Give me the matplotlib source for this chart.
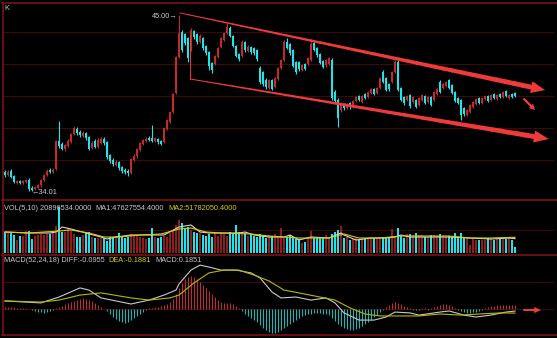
import numpy as np
import matplotlib
matplotlib.use("Agg")
import matplotlib.pyplot as plt
from matplotlib.lines import Line2D

# ---------------- data ----------------
opens = [35.19,35.00,35.25,34.94,34.50,34.63,34.50,34.56,34.69,34.19,
         34.13,34.19,34.38,34.69,35.00,35.31,35.19,35.38,37.13,36.94,
         36.63,36.81,37.06,37.56,37.88,37.69,37.44,37.63,37.38,36.69,
         37.13,36.75,37.00,37.25,37.06,36.25,35.94,35.63,35.81,35.50,
         35.31,35.25,35.13,35.94,36.19,36.56,36.94,37.13,37.31,37.31,
         37.13,37.25,37.13,37.06,37.88,38.31,38.94,40.13,42.38,43.94,
         43.81,43.56,42.81,44.00,43.81,43.31,43.56,43.06,42.69,42.00,
         41.94,42.38,43.00,43.44,43.88,44.19,43.69,43.06,42.56,42.44,
         43.31,42.75,43.00,42.94,42.81,41.69,41.44,40.94,40.44,40.94,
         40.50,41.00,41.69,42.19,43.31,43.19,42.81,42.06,42.06,41.56,
         41.94,41.94,42.19,43.25,42.94,42.56,42.13,41.88,41.94,42.19,
         40.19,39.69,39.06,39.44,39.19,39.50,39.25,39.63,39.94,39.56,
         40.06,39.88,40.13,40.38,40.13,40.44,41.44,41.06,40.69,40.81,
         41.44,42.06,40.44,39.88,39.69,40.00,39.56,39.69,39.38,39.69,
         39.94,39.56,39.88,39.69,40.06,40.81,40.44,40.56,40.94,40.63,
         40.19,39.81,39.69,39.19,38.75,38.94,39.25,39.44,39.81,39.50,
         39.75,39.94,39.69,40.06,39.75,40.06,39.88,40.25,39.81,40.06,
         40.13]
closes = [35.00,35.19,34.88,34.56,34.63,34.50,34.63,34.69,34.13,34.06,
          34.25,34.38,34.69,35.00,35.25,35.19,35.31,37.13,36.81,36.63,
          36.88,37.13,37.56,37.94,37.63,37.50,37.63,37.31,36.63,37.00,
          36.75,37.19,37.25,37.00,36.13,35.88,35.69,35.81,35.44,35.25,
          35.19,35.13,36.00,36.19,36.63,37.00,37.19,37.25,37.19,37.13,
          37.31,37.06,36.94,37.94,38.44,38.94,40.06,42.38,43.88,42.81,
          43.25,42.31,44.06,43.63,43.31,43.69,42.94,42.63,41.81,41.56,
          42.44,42.94,43.56,43.88,44.25,43.69,43.06,42.44,42.25,43.31,
          42.81,43.00,42.69,42.63,42.25,40.81,40.69,40.50,40.94,40.38,
          41.06,41.69,42.19,43.31,42.94,42.63,41.81,41.44,41.63,41.88,
          41.63,42.31,43.19,42.81,42.50,42.00,41.75,42.19,42.31,39.81,
          39.63,38.56,39.50,39.19,39.44,39.25,39.63,39.88,39.69,39.94,
          39.81,40.19,40.38,40.06,40.44,41.06,40.81,40.31,40.38,41.44,
          42.06,40.31,39.69,39.50,39.94,39.31,39.88,39.25,39.81,40.00,
          39.50,39.88,39.38,40.19,40.38,40.19,40.69,40.81,40.44,40.13,
          39.63,39.50,38.75,38.81,39.06,39.38,39.56,39.75,39.50,39.81,
          39.94,39.63,40.00,39.81,40.00,39.88,40.19,39.94,40.00,39.88,
          39.94]
highs = [35.31,35.31,35.38,35.00,34.69,34.69,34.69,34.75,34.81,34.31,
         34.31,34.44,34.75,35.06,35.38,35.44,35.44,37.19,38.38,37.06,
         36.94,37.25,37.63,38.06,38.00,37.81,37.75,37.69,37.44,37.13,
         37.25,37.31,37.38,37.38,37.13,36.31,36.06,35.94,35.88,35.56,
         35.44,35.38,36.06,36.31,36.69,37.06,37.25,37.38,37.44,38.13,
         37.38,37.31,37.19,38.00,38.50,39.00,40.13,42.44,45.00,44.06,
         43.88,43.63,44.19,44.06,43.88,43.81,43.63,43.13,42.75,42.06,
         42.50,43.00,43.63,43.94,44.50,44.31,43.75,43.13,42.63,43.44,
         43.38,43.13,43.06,43.00,42.88,41.81,41.50,41.06,41.00,41.00,
         41.13,41.75,42.25,43.44,43.56,43.25,42.88,42.13,42.13,41.94,
         42.00,42.38,43.31,43.31,43.00,42.63,42.19,42.25,42.38,42.31,
         40.31,39.81,39.56,39.50,39.50,39.56,39.69,39.94,40.00,40.00,
         40.13,40.25,40.44,40.44,40.50,41.13,41.56,41.13,40.75,41.50,
         42.19,42.19,40.50,39.94,40.00,40.06,39.94,39.75,39.88,40.06,
         40.00,39.94,39.94,40.25,40.44,40.94,40.75,40.88,41.00,40.69,
         40.25,39.88,39.75,39.25,39.13,39.44,39.63,39.81,39.88,39.88,
         40.00,40.00,40.06,40.13,40.06,40.13,40.25,40.31,40.06,40.13,
         40.19]
lows = [34.88,34.94,34.81,34.50,34.44,34.44,34.44,34.50,34.01,34.03,
        34.06,34.13,34.25,34.63,34.94,35.13,35.13,35.31,36.69,36.56,
        36.50,36.75,37.00,37.50,37.50,37.38,37.38,37.19,36.56,36.63,
        36.69,36.69,36.94,36.88,36.00,35.75,35.56,35.56,35.31,35.13,
        35.06,34.94,35.06,35.88,36.06,36.50,36.88,37.06,37.13,37.06,
        37.06,36.94,36.88,37.00,37.81,38.25,38.88,40.06,42.31,42.69,
        43.13,42.06,42.75,43.50,43.19,43.25,42.81,42.50,41.56,41.38,
        41.88,42.31,42.94,43.38,43.81,43.63,43.00,42.38,42.13,42.38,
        42.69,42.69,42.56,42.50,42.13,40.69,40.56,40.38,40.38,40.31,
        40.44,40.94,41.63,42.13,42.88,42.50,41.75,41.31,41.50,41.50,
        41.56,41.88,42.13,42.75,42.38,41.94,41.69,41.75,41.88,39.69,
        39.50,38.00,38.94,39.06,39.13,39.13,39.19,39.56,39.63,39.50,
        39.75,39.81,40.06,40.00,40.06,40.38,40.75,40.25,40.25,40.75,
        41.38,40.25,39.63,39.38,39.63,39.19,39.50,39.19,39.31,39.63,
        39.44,39.50,39.31,39.63,40.00,40.13,40.38,40.50,40.38,40.06,
        39.56,39.44,38.44,38.69,38.69,38.88,39.19,39.38,39.44,39.44,
        39.69,39.56,39.63,39.75,39.69,39.81,39.81,39.88,39.75,39.81,
        39.88]
volumes_m = [69.3,69.3,66.0,59.4,42.9,56.1,56.1,72.6,72.6,46.2,
             56.1,59.4,62.7,59.4,62.7,62.7,69.3,89.1,151.8,69.3,
             69.3,79.2,72.6,62.7,52.8,52.8,59.4,69.3,69.3,52.8,
             49.5,49.5,49.5,49.5,39.6,52.8,52.8,56.1,66.0,52.8,
             49.5,52.8,62.7,59.4,56.1,52.8,49.5,46.2,49.5,82.5,
             52.8,49.5,52.8,56.1,52.8,66.0,75.9,92.4,108.9,99.0,
             82.5,85.8,75.9,69.3,66.0,66.0,59.4,56.1,62.7,52.8,
             69.3,56.1,66.0,62.7,56.1,69.3,66.0,92.4,69.3,62.7,
             66.0,56.1,62.7,56.1,52.8,62.7,56.1,49.5,59.4,56.1,
             62.7,56.1,82.5,49.5,52.8,59.4,52.8,46.2,46.2,33.0,
             36.3,49.5,72.6,49.5,49.5,52.8,52.8,59.4,49.5,62.7,
             69.3,75.9,89.1,49.5,52.8,42.9,46.2,49.5,42.9,49.5,
             49.5,46.2,49.5,49.5,49.5,52.8,52.8,49.5,52.8,79.2,
             52.8,82.5,56.1,49.5,62.7,62.7,59.4,66.0,59.4,59.4,
             52.8,52.8,59.4,59.4,56.1,62.7,52.8,52.8,56.1,52.8,
             66.0,52.8,66.0,52.8,49.5,26.4,46.2,42.9,42.9,42.9,
             42.9,49.5,46.2,42.9,46.2,49.5,46.2,46.2,49.5,42.9,
             20.9]
# volume moving averages (read at sample candles)
vol_ma1_idx = [0,8,15,17,19,22,27,32,34,37,42,48,53,58,62,65,68,78,80,83,88,93,95,98,
               102,108,112,113,117,122,127,130,132,135,142,148,155,162,168,170]
vol_ma1 = [69.3,66.0,66.0,69.3,85.8,79.2,66.0,52.8,46.2,52.8,59.4,59.4,59.4,85.8,92.4,
           69.3,66.0,66.0,69.3,59.4,52.8,52.8,59.4,42.9,52.8,49.5,66.0,59.4,42.9,49.5,
           49.5,52.8,59.4,52.8,52.8,52.8,49.5,46.2,49.5,47.6]
vol_ma2_idx = [0,8,18,22,28,33,38,45,52,58,62,67,72,82,88,98,108,113,118,125,132,138,
               148,155,162,170]
vol_ma2 = [69.3,66.0,72.6,75.9,66.0,52.8,52.8,59.4,62.7,79.2,82.5,69.3,66.0,62.7,56.1,
           49.5,49.5,62.7,49.5,49.5,56.1,56.1,56.1,49.5,49.5,51.8]
# MACD histogram, one per candle
macd_hist = [0.09,0.09,0.09,0.09,0.05,0.05,0.05,0.05,0.00,-0.05,
             -0.09,-0.14,-0.14,-0.18,-0.14,-0.09,-0.05,0.05,0.09,0.14,
             0.23,0.28,0.32,0.37,0.41,0.46,0.51,0.46,0.41,0.37,
             0.28,0.18,0.09,0.00,-0.09,-0.23,-0.37,-0.46,-0.55,-0.60,
             -0.64,-0.60,-0.51,-0.41,-0.32,-0.23,-0.14,-0.05,0.05,0.05,
             0.09,0.09,0.14,0.18,0.23,0.32,0.46,0.69,0.97,1.20,
             1.38,1.47,1.52,1.47,1.38,1.24,1.10,0.97,0.83,0.69,
             0.55,0.41,0.32,0.28,0.28,0.28,0.23,0.14,0.05,-0.09,
             -0.23,-0.32,-0.41,-0.51,-0.60,-0.74,-0.87,-0.97,-1.06,-1.10,
             -1.10,-1.06,-0.97,-0.87,-0.78,-0.69,-0.60,-0.51,-0.41,-0.32,
             -0.28,-0.23,-0.23,-0.18,-0.18,-0.18,-0.23,-0.23,-0.28,-0.41,
             -0.55,-0.69,-0.78,-0.87,-0.92,-0.97,-0.97,-0.92,-0.87,-0.78,
             -0.69,-0.60,-0.51,-0.37,-0.28,-0.14,-0.05,0.09,0.18,0.28,
             0.32,0.28,0.23,0.14,0.09,0.05,-0.05,-0.05,-0.05,0.05,
             0.05,-0.05,0.05,0.09,0.14,0.18,0.23,0.23,0.18,0.14,
             0.05,-0.05,-0.09,-0.14,-0.18,-0.18,-0.14,-0.14,-0.09,-0.05,
             0.05,0.09,0.14,0.14,0.18,0.18,0.18,0.18,0.18,0.18,
             0.1851]
diff_idx = [0,12,18,25,28,32,42,48,53,57,58,62,65,68,72,77,82,85,89,92,97,102,107,110,
            113,118,123,127,130,135,138,145,148,153,157,162,167,170]
diff_vals = [0.37,0.28,0.55,0.97,0.87,0.51,0.23,0.41,0.64,0.87,1.15,1.79,2.02,1.93,1.79,
             1.79,1.66,1.43,0.78,0.51,0.55,0.41,0.51,0.28,-0.18,-0.51,-0.51,-0.37,-0.14,
             -0.18,-0.28,-0.14,-0.09,-0.28,-0.37,-0.28,-0.14,-0.0955]
dea_idx = [0,12,18,25,32,42,48,55,58,63,68,73,78,83,88,93,98,105,110,115,120,125,132,
           138,145,152,158,165,170]
dea_vals = [0.37,0.32,0.41,0.64,0.74,0.51,0.41,0.51,0.64,1.20,1.66,1.79,1.79,1.56,1.29,
            0.87,0.74,0.55,0.41,0.05,-0.23,-0.32,-0.32,-0.32,-0.23,-0.28,-0.23,-0.18,-0.1881]

# annotation anchors (candle index, price / value)
peak_label = (58, 45.00)
low_label = (8, 34.01)
chan_upper = [(58.3, 45.13), (180.0, 40.31)]
chan_left = [(61.7, 43.75), (61.7, 41.00)]
chan_lower = [(61.7, 41.00), (181.3, 37.25)]
small_arrow = [(173.0, 39.75), (176.7, 39.06)]
macd_arrow = [(173.0, -0.05), (178.7, -0.05)]

# ---------------- styling ----------------
W, H = 557, 338
BG = "black"
RED = "#c42a2a"
CYAN = "#1ee4ec"
VOLRED = "#8e1e1e"
GRID = "#420808"
FRAME = "#7a1414"
ARROW = "#f03a3a"
TXT = "#c8c8c8"
YEL = "#d0d000"

fig = plt.figure(figsize=(W / 100, H / 100), dpi=100, facecolor=BG)


def ax_px(l, t, r, b):
    a = fig.add_axes([l / W, 1 - b / H, (r - l) / W, (b - t) / H])
    a.set_facecolor(BG)
    a.set_axis_off()
    a.set_xlim(-0.667, 183.0)
    return a


def hline_frac(a, fracs):
    for f in fracs:
        a.plot([0, 1], [f, f], transform=a.transAxes, color=GRID, lw=0.72, zorder=0,
               antialiased=False)


ax = ax_px(3, 3, 554, 198)
ax.set_ylim(33.5625, 45.75)
axv = ax_px(3, 201, 554, 253)
axv.set_ylim(0, 171.6)
axm = ax_px(3, 255, 554, 334)
axm.set_ylim(-1.15, 2.484)

hline_frac(ax, [0.851, 0.687, 0.523, 0.359, 0.195])
hline_frac(axv, [0.442])
hline_frac(axm, [0.658, 0.316])

idx = np.arange(len(closes))
o = np.array(opens); c = np.array(closes)
up = c >= o
cols = np.where(up, RED, CYAN)

# candles
ax.vlines(idx, lows, highs, colors=cols, lw=0.8, zorder=2)
ax.bar(idx, np.maximum(np.abs(c - o), 0.04), bottom=np.minimum(o, c), width=0.7,
       color=cols, linewidth=0, zorder=3)

# volume
vcols = np.where(up, VOLRED, CYAN)
axv.bar(idx, volumes_m, width=0.8, color=vcols, linewidth=0, zorder=2)
axv.plot(vol_ma1_idx, vol_ma1, color="#e8d0d8", lw=0.8, zorder=3)
axv.plot(vol_ma2_idx, vol_ma2, color=YEL, lw=0.8, zorder=3)

# MACD
hist = np.array(macd_hist)
hcols = np.where(hist >= 0, "#b83030", "#1fb4b4")
axm.vlines(idx, 0, hist, colors=hcols, lw=0.8, zorder=2)
axm.plot(diff_idx, diff_vals, color="#c8c8c8", lw=0.8, zorder=3)
axm.plot(dea_idx, dea_vals, color="#b8b800", lw=0.8, zorder=3)


# tapered arrows
def arrow(a, p0, p1, w0, w1, head_len_px, head_w_px, n=40):
    fig.canvas.draw()
    t = a.transData
    d0 = np.array(t.transform(p0)); d1 = np.array(t.transform(p1))
    v = d1 - d0; L = np.hypot(*v); u = v / L
    base = d1 - u * head_len_px
    inv = t.inverted()
    b = inv.transform(base)
    xs = np.linspace(p0[0], b[0], n + 1); ys = np.linspace(p0[1], b[1], n + 1)
    for k in range(n):
        a.plot(xs[k:k + 2], ys[k:k + 2], color=ARROW, lw=w0 + (w1 - w0) * k / n,
               solid_capstyle="round", zorder=5)
    if head_len_px > 0:
        perp = np.array([-u[1], u[0]])
        tri = np.array([d1, base + perp * head_w_px / 2, base - perp * head_w_px / 2])
        tri_d = inv.transform(tri)
        a.fill(tri_d[:, 0], tri_d[:, 1], color=ARROW, lw=0, zorder=5)


arrow(ax, chan_upper[0], chan_upper[1], 0.7, 3.6, 14, 12)
arrow(ax, chan_left[0], chan_left[1], 0.7, 0.7, 0, 0)
arrow(ax, chan_lower[0], chan_lower[1], 0.7, 3.6, 15, 12)
arrow(ax, small_arrow[0], small_arrow[1], 1.2, 1.4, 6, 6)
arrow(axm, macd_arrow[0], macd_arrow[1], 1.4, 1.4, 7, 6)

# labels
FONT = ["Liberation Sans", "DejaVu Sans"]
FS = 5.3


def ftext(xpx, ypx, s, color=TXT, ha="left"):
    return fig.text(xpx / W, 1 - ypx / H, s, color=color, fontsize=FS, family=FONT,
                    ha=ha, va="center")


def text_row(xpx, ypx, pieces, gap=4):
    renderer = fig.canvas.get_renderer()
    x = xpx
    for s, col in pieces:
        t = ftext(x, ypx, s, col)
        x += t.get_window_extent(renderer).width + gap


ftext(4, 8, "K")
ax.annotate("45.00\u2192", xy=peak_label, xytext=(-1, -1), textcoords="offset points",
            color=TXT, fontsize=FS, family=FONT, ha="right", va="center")
ax.annotate("\u219034.01", xy=low_label, xytext=(2, -1), textcoords="offset points",
            color=TXT, fontsize=FS, family=FONT, ha="left", va="center")

fig.canvas.draw()
text_row(4, 208, [("VOL(5,10) 20896534.0000", TXT), ("MA1:47627554.4000", TXT),
                  ("MA2:51782050.4000", YEL)])
text_row(4, 261, [("MACD(52,24,18) DIFF:-0.0955", TXT), ("DEA:-0.1881", YEL),
                  ("MACD:0.1851", TXT)])

# frame lines
for ypx in [2.5, 199.5, 254.5, 334.5]:
    fig.add_artist(Line2D([2 / W, 1], [1 - ypx / H] * 2, color=FRAME, lw=1.2))
fig.add_artist(Line2D([2.5 / W, 2.5 / W], [1 - 2.5 / H, 1 - 334.5 / H], color=FRAME, lw=1.2))

fig.savefig("out.png", dpi=100, facecolor=BG)
